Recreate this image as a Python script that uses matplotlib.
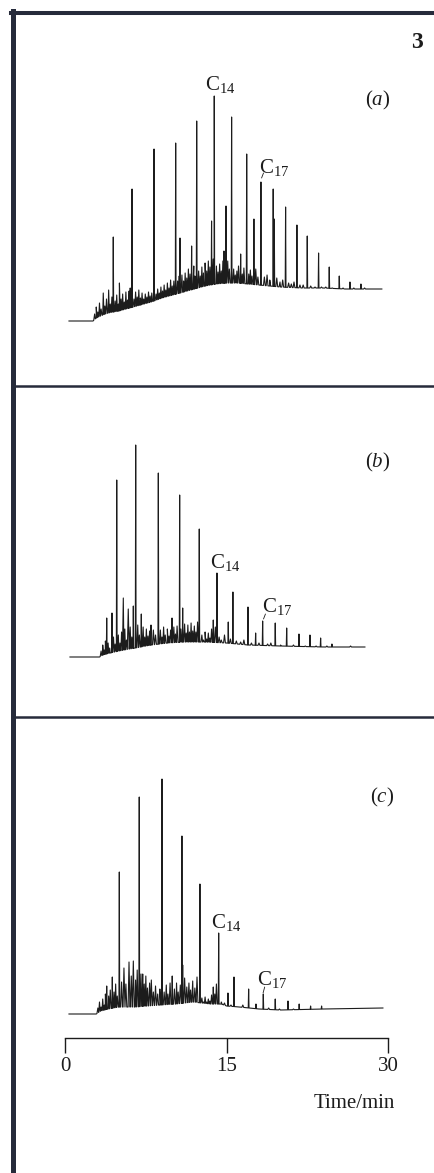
# ==========================================================
# Packages
# ==========================================================

import matplotlib
matplotlib.use("Agg")
import matplotlib.pyplot as plt
import numpy as np
from matplotlib.lines import Line2D

# ==========================================================
# Data (time in min, response in arbitrary units)
# ==========================================================

# --- (a) ---
A_BASE_T = [0.37, 2.6, 2.9, 3.5, 4.0, 5.0, 6.0, 7.0, 8.0, 9.0, 10.0, 11.0, 12.0, 13.0, 14.0,
            15.0, 16.0, 17.0, 18.0, 19.0, 20.0, 22.0, 24.0, 26.0, 28.0, 29.4]
A_BASE_V = [0, 0, 3, 6, 8, 10, 13, 16, 19, 23, 26, 29, 32, 35, 37,
            38, 38, 37, 36, 35, 34, 33, 33, 32, 32, 32]
A_PEAK_T = [4.48, 6.22, 8.26, 10.27, 10.67, 11.75, 12.22, 13.60, 13.85, 14.75, 14.94, 15.46, 16.30,
            16.86, 17.53, 18.18, 19.32, 19.42, 20.47, 21.52, 22.48, 23.53, 24.52, 25.45, 26.44, 27.46]
A_PEAK_V = [84, 132, 172, 178, 83, 75, 200, 100, 225, 70, 115, 204, 67,
            167, 102, 139, 132, 102, 114, 96, 85, 68, 54, 45, 39, 37]
A_NOISE_T = [2.75, 2.9, 3.05, 3.2, 3.35, 3.55, 3.7, 3.85, 4.05, 4.2, 4.35, 4.65, 4.8, 4.95, 5.05,
             5.2, 5.35, 5.5, 5.65, 5.8, 5.95, 6.05, 6.4, 6.55, 6.7, 6.85, 7.0, 7.15, 7.3, 7.45,
             7.6, 7.75, 7.9, 8.05, 8.45, 8.6, 8.75, 8.9, 9.05, 9.2, 9.35, 9.5, 9.65, 9.8, 9.95,
             10.1, 10.45, 10.6, 10.85, 11.0, 11.15, 11.3, 11.45, 11.6, 11.95, 12.05, 12.4, 12.55,
             12.7, 12.85, 13.0, 13.15, 13.3, 13.45, 13.75, 14.05, 14.2, 14.35, 14.5, 14.65, 15.1,
             15.25, 15.65, 15.8, 15.95, 16.1, 16.45, 16.6, 17.05, 17.2, 17.35, 17.7, 17.9, 18.5,
             18.75, 19.0, 19.65, 19.95, 20.2, 20.75, 21.0, 21.25, 21.8, 22.1, 22.8, 23.2, 23.8,
             24.2, 24.8, 25.8, 26.8, 27.8]
A_NOISE_V = [7, 14, 9, 18, 12, 28, 15, 22, 31, 17, 24, 20, 26, 17, 38,
             22, 27, 19, 29, 21, 30, 33, 22, 29, 24, 31, 23, 28, 22, 27,
             24, 29, 25, 28, 27, 32, 28, 34, 30, 36, 31, 38, 33, 41, 35,
             40, 40, 45, 46, 40, 48, 43, 52, 47, 55, 45, 50, 45,
             54, 48, 58, 50, 60, 54, 62, 55, 49, 57, 50, 60, 60,
             52, 52, 46, 50, 55, 47, 53, 47, 51, 45, 52, 44, 44,
             46, 41, 43, 39, 41, 38, 37, 39, 36, 36, 35, 34, 34,
             34, 33, 33, 33, 33]

# --- (b) ---
B_BASE_T = [0.46, 3.2, 3.5, 4.2, 5.0, 6.5, 8.0, 9.5, 11.0, 13.0, 15.0, 17.0, 20.0, 24.0, 27.83]
B_BASE_V = [0, 0, 2, 4, 6, 9, 12, 14, 15, 15, 14, 12, 11, 10, 10]
B_PEAK_T = [3.87, 4.36, 4.80, 6.34, 6.56, 7.08, 8.66, 9.93, 10.64, 10.92, 12.46, 13.76, 14.10,
            15.15, 15.58, 16.98, 17.69, 18.34, 19.51, 20.57, 21.71, 22.73, 23.72, 24.77]
B_PEAK_V = [39, 44, 177, 51, 212, 43, 184, 39, 162, 49, 128, 37, 84,
            35, 65, 50, 24, 36, 34, 29, 23, 22, 19, 13]
B_NOISE_T = [3.35, 3.5, 3.65, 3.75, 4.0, 4.15, 4.5, 4.65, 4.95, 5.1, 5.25, 5.41, 5.55, 5.7, 5.87,
             6.05, 6.2, 6.75, 6.9, 7.25, 7.4, 7.55, 7.7, 7.85, 7.98, 8.2, 8.4, 8.85, 9.0, 9.15,
             9.3, 9.5, 9.65, 9.8, 10.1, 10.25, 10.4, 10.75, 11.1, 11.25, 11.4, 11.55, 11.7, 11.85,
             12.0, 12.15, 12.3, 12.7, 12.85, 13.0, 13.15, 13.3, 13.45, 13.6, 13.95, 14.3, 14.5,
             14.8, 15.35, 15.9, 16.3, 16.6, 17.3, 18.0, 18.8, 19.1, 20.0, 21.2, 22.3, 23.3, 24.3,
             25.5, 26.5]
B_NOISE_V = [6, 12, 7, 16, 14, 9, 20, 13, 22, 14, 25, 59, 28, 17, 48,
             30, 20, 32, 22, 30, 20, 28, 21, 26, 32, 27, 22, 27, 20, 30,
             22, 28, 21, 27, 30, 23, 31, 28, 33, 24, 32, 25, 34, 26,
             31, 25, 35, 22, 17, 25, 18, 24, 19, 28, 30, 20, 17,
             22, 18, 16, 15, 17, 14, 14, 13, 14, 12, 12, 11, 11, 11,
             10, 11]

# --- (c) ---
C_BASE_T = [0.37, 2.9, 3.3, 4.0, 5.0, 6.5, 8.8, 10.3, 11.9, 13.5, 14.5, 15.0, 16.2, 18.0, 20.0, 24.0, 29.5]
C_BASE_V = [0, 0, 3, 5, 7, 7, 9, 10, 12, 10, 10, 8, 7, 5, 4, 5, 6]
C_PEAK_T = [3.87, 4.39, 5.04, 6.89, 7.21, 9.00, 9.95, 10.85, 10.92, 12.52, 13.76, 14.26, 15.12,
            15.68, 17.04, 17.72, 18.40, 19.51, 20.69, 21.73, 22.79, 23.81]
C_PEAK_V = [28, 37, 142, 217, 40, 235, 38, 178, 49, 130, 27, 81, 21,
            37, 25, 10, 20, 15, 13, 10, 8, 8]
C_NOISE_T = [3.05, 3.2, 3.35, 3.5, 3.65, 3.75, 4.05, 4.2, 4.55, 4.7, 4.85, 5.25, 5.47, 5.65, 5.94,
             6.15, 6.34, 6.55, 6.7, 7.05, 7.35, 7.5, 7.65, 7.85, 8.01, 8.2, 8.4, 8.6, 8.8, 9.2,
             9.4, 9.55, 9.75, 10.15, 10.35, 10.5, 10.7, 11.1, 11.3, 11.5, 11.65, 11.85, 12.05,
             12.25, 12.7, 12.85, 13.0, 13.15, 13.3, 13.45, 13.6, 13.9, 14.05, 14.5, 14.8, 15.4,
             16.5, 18.9, 19.9, 21.2]
C_NOISE_V = [6, 12, 7, 15, 9, 20, 18, 24, 22, 30, 18, 32, 46, 30, 52,
             38, 53, 34, 44, 40, 30, 38, 26, 31, 34, 22, 28, 20, 25, 22,
             29, 20, 31, 25, 31, 22, 29, 36, 27, 31, 24, 33, 26,
             37, 16, 12, 17, 12, 15, 13, 19, 20, 30, 12, 11, 9,
             9, 6, 5, 5]

PANELS = ["(a)", "(b)", "(c)"]
TIME_TICKS = [0, 15, 30]

# ==========================================================
# Layout (pixels of the 434 x 1173 page)
# ==========================================================

W, H = 434, 1173
X0_PX, X30_PX = 65, 388.3
INK = "#1c1c1c"
FRAME = "#262b3b"
SERIF = "Liberation Serif"

plt.rcParams["font.family"] = SERIF
plt.rcParams["mathtext.fontset"] = "custom"
plt.rcParams["mathtext.rm"] = SERIF
plt.rcParams["mathtext.it"] = SERIF + ":italic"
plt.rcParams["mathtext.bf"] = SERIF + ":bold"


def fx(x):
    return x / W


def fy(y):
    return 1 - y / H


def build_trace(base_t, base_v, peak_t, peak_v, noise_t, noise_v):
    # spikes sit on the hump: narrow for the resolved peaks, broader for the noise
    ts = list(base_t)
    vs = list(base_v)
    for pt, pv, hw in [(peak_t, peak_v, 0.035), (noise_t, noise_v, 0.085)]:
        for t, v in zip(pt, pv):
            for d in (-hw, hw):
                ts.append(t + d)
                vs.append(np.interp(t + d, base_t, base_v))
            ts.append(t)
            vs.append(v)
    order = np.argsort(ts, kind="stable")
    return np.array(ts)[order], np.array(vs)[order]


def add_panel(fig, top, bottom, zero, trace):
    ax = fig.add_axes([fx(X0_PX), fy(bottom), fx(X30_PX - X0_PX), (bottom - top) / H])
    ax.set_xlim(0, 30)
    ax.set_ylim(zero - bottom, zero - top)
    ax.plot(*trace, color=INK, lw=0.8)
    for s in ax.spines.values():
        s.set_visible(False)
    ax.set_xticks([])
    ax.set_yticks([])
    ax.patch.set_alpha(0)
    return ax


def label_peak(ax, text, x, y, leader=None):
    ax.text(x, y, text, fontsize=15, ha="left", va="baseline", color=INK)
    if leader is not None:
        ax.annotate("", xy=leader[0], xytext=leader[1],
                    arrowprops=dict(arrowstyle="-", lw=0.6, color=INK, shrinkA=0, shrinkB=0))


# ==========================================================
# Figure
# ==========================================================

def main():
    fig = plt.figure(figsize=(W / 100, H / 100), dpi=100)

    # frame
    fig.add_artist(Line2D([fx(13), fx(13)], [fy(11), 0], color=FRAME, lw=3.6))
    fig.add_artist(Line2D([fx(11), 1], [fy(13), fy(13)], color=FRAME, lw=2.9))
    for y in (386, 717):
        fig.add_artist(Line2D([fx(13), 1], [fy(y), fy(y)], color=FRAME, lw=1.8))

    fig.text(fx(417), fy(43), "3", fontsize=17, fontweight="bold", ha="center", va="center", color=INK)

    tr_a = build_trace(A_BASE_T, A_BASE_V, A_PEAK_T, A_PEAK_V, A_NOISE_T, A_NOISE_V)
    tr_b = build_trace(B_BASE_T, B_BASE_V, B_PEAK_T, B_PEAK_V, B_NOISE_T, B_NOISE_V)
    tr_c = build_trace(C_BASE_T, C_BASE_V, C_PEAK_T, C_PEAK_V, C_NOISE_T, C_NOISE_V)

    ax_a = add_panel(fig, 40, 360, 321, tr_a)
    ax_b = add_panel(fig, 400, 700, 657, tr_b)
    ax_c = add_panel(fig, 730, 1038, 1014, tr_c)

    # peak labels
    label_peak(ax_a, r"C$_{14}$", 12.99, 231)
    label_peak(ax_a, r"C$_{17}$", 18.02, 148, leader=((18.24, 143), (18.42, 148)))
    label_peak(ax_b, r"C$_{14}$", 13.45, 89)
    label_peak(ax_b, r"C$_{17}$", 18.24, 45, leader=((18.42, 38), (18.6, 43)))
    label_peak(ax_c, r"C$_{14}$", 13.51, 86)
    label_peak(ax_c, r"C$_{17}$", 17.78, 29, leader=((18.38, 21), (18.53, 27)))

    # panel letters
    for name, (x, y) in zip(PANELS, [(378, 100), (378, 462), (382, 797)]):
        letter = name.strip("()")
        fig.text(fx(x), fy(y), r"(" + r"$\mathit{" + letter + "}$" + ")", fontsize=15,
                 ha="center", va="center", color=INK)

    # time axis on (c)
    ax_c.spines["bottom"].set_visible(True)
    ax_c.spines["bottom"].set_color(INK)
    ax_c.spines["bottom"].set_linewidth(1.0)
    ax_c.set_xticks(TIME_TICKS)
    ax_c.set_xticklabels([str(t) for t in TIME_TICKS])
    ax_c.tick_params(axis="x", direction="out", length=10.8, width=1.0, color=INK,
                     labelsize=15, labelcolor=INK, pad=3)
    fig.text(fx(395), fy(1103), "Time/min", fontsize=15, ha="right", va="center", color=INK)

    fig.savefig("out.png", dpi=100, facecolor="white")


if __name__ == "__main__":
    main()
